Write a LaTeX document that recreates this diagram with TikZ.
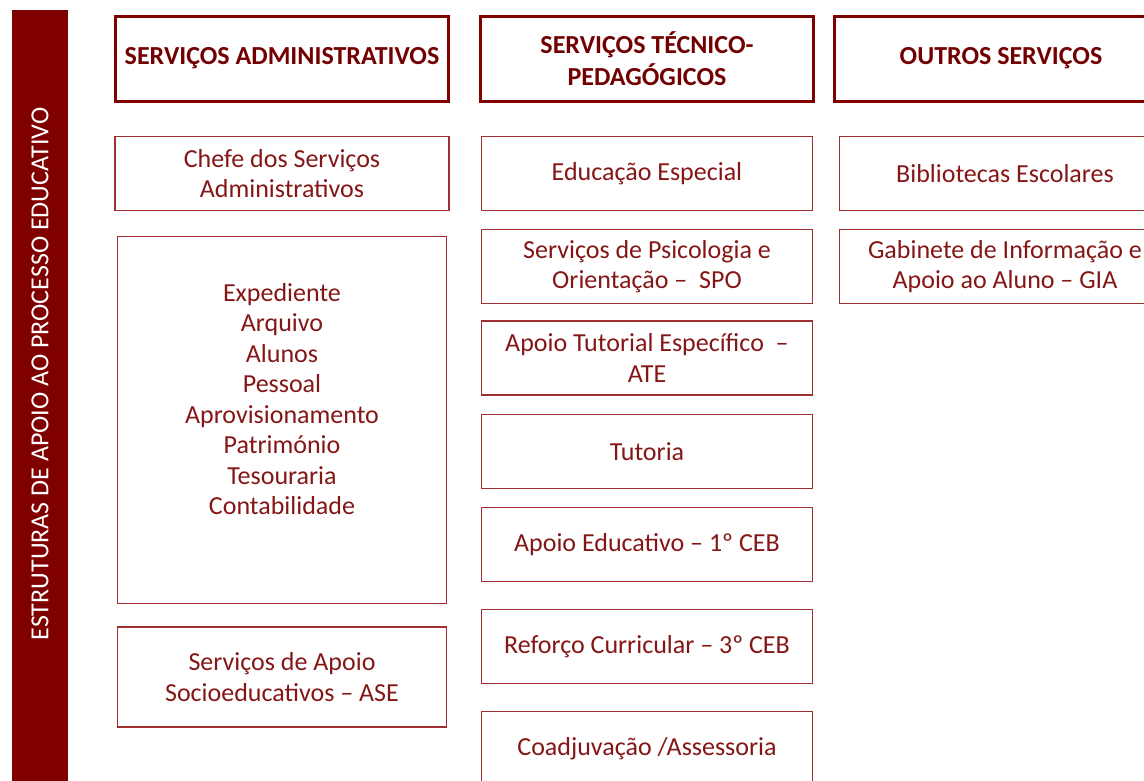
\documentclass[tikz,border=0pt]{standalone}
\usepackage{fontspec}
\setmainfont{Carlito}
\usetikzlibrary{positioning}

\definecolor{barred}{RGB}{128,0,0}
\definecolor{linered}{RGB}{160,48,48}
\definecolor{textred}{RGB}{132,22,22}

\tikzstyle{sidebar} = [rectangle,
minimum width=56pt,
minimum height=790pt,
inner sep=0pt,
fill=barred]
\tikzstyle{sidetext} = [rotate=90,
text=white,
font=\fontsize{26}{30}\selectfont]
\tikzstyle{headbox} = [rectangle,
minimum width=333pt,
minimum height=85pt,
inner sep=0pt,
text centered, align=center,
draw=barred, line width=3pt,
text=barred!90!black,
font=\fontsize{26}{32}\selectfont\bfseries]
\tikzstyle{itembox} = [rectangle,
minimum width=331pt,
minimum height=74pt,
inner sep=0pt,
text centered, align=center,
draw=linered, line width=1.2pt,
text=textred,
font=\fontsize{26}{30.5}\selectfont]
\tikzstyle{listtext} = [align=center,
text=textred,
font=\fontsize{26}{30.5}\selectfont]

\begin{document}
\begin{tikzpicture}[x=1pt, y=-1pt]

    \clip (0,0) rectangle (1144,780);

    % faixa lateral
    \node (bar) [sidebar] at (40,405) {};
    \node (bartext) [sidetext] at (40,374) {ESTRUTURAS DE APOIO AO PROCESSO EDUCATIVO};

    % cabecalhos
    \node (adminhead) [headbox] at (282,58.5) {SERVIÇOS ADMINISTRATIVOS};
    \node (tecnhead) [headbox, right=29pt of adminhead] {SERVIÇOS TÉCNICO-\\PEDAGÓGICOS};
    \node (outhead) [headbox, right=18pt of tecnhead] {OUTROS SERVIÇOS};

    % servicos administrativos
    \node (chefe) [itembox, minimum width=334pt, below=33.5pt of adminhead] {Chefe dos Serviços\\Administrativos};
    \node (adm) [itembox, minimum width=329pt, minimum height=367pt, below=25pt of chefe,
        label={[listtext, yshift=21pt]center:{Expediente\\Arquivo\\Alunos\\Pessoal\\Aprovisionamento\\Património\\Tesouraria\\Contabilidade}}] {};
    \node (ase) [itembox, minimum width=329pt, minimum height=100pt, below=22pt of adm] {Serviços de Apoio\\Socioeducativos – ASE};

    % servicos tecnico-pedagogicos
    \node (eduesp) [itembox, below=33.5pt of tecnhead] {Educação Especial};
    \node (spo) [itembox, below=18pt of eduesp] {Serviços de Psicologia e\\Orientação –\ \ SPO};
    \node (ate) [itembox, below=16pt of spo] {Apoio Tutorial Específico\ \ –\\ATE};
    \node (tutoria) [itembox, below=18pt of ate] {Tutoria};
    \node (apoioedu) [itembox, below=18pt of tutoria] {Apoio Educativo – 1º CEB};
    \node (reforco) [itembox, below=27pt of apoioedu] {Reforço Curricular – 3º CEB};
    \node (coadj) [itembox, below=27pt of reforco] {Coadjuvação /Assessoria};

    % outros servicos
    \node (biblio) [itembox, below=33.5pt of outhead, xshift=4pt] {Bibliotecas Escolares};
    \node (gia) [itembox, below=18pt of biblio] {Gabinete de Informação e\\Apoio ao Aluno – GIA};

\end{tikzpicture}
\end{document}
